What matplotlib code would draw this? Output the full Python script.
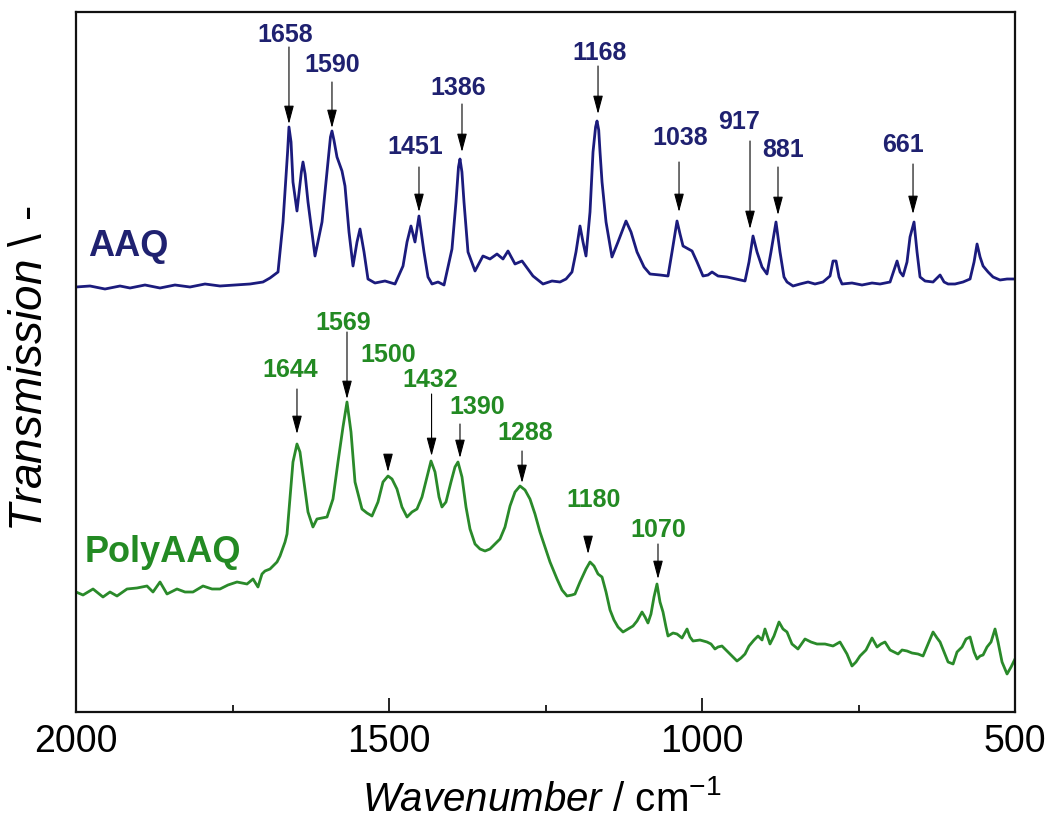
import numpy as np
import matplotlib
matplotlib.use("Agg")
import matplotlib.pyplot as plt
from matplotlib import font_manager
from matplotlib.ticker import MultipleLocator

# ---------------- data ----------------
aaq_wn = [2000.0, 1977.6, 1953.7, 1929.7, 1913.7, 1889.8, 1865.8, 1841.9, 1817.9, 1793.9,
          1770.0, 1746.0, 1722.0, 1701.3, 1690.1, 1677.3, 1669.3, 1662.0, 1659.8, 1656.5, 1653.4, 1647.0,
          1640.0, 1637.4, 1634.0, 1629.4, 1618.2, 1607.0, 1597.5, 1593.5, 1591.1, 1588.0, 1583.1, 1575.1, 1570.3, 1563.9,
          1557.5, 1551.1, 1546.3, 1539.9, 1533.6, 1522.4, 1506.4, 1490.4, 1477.6, 1471.2,
          1464.9, 1458.5, 1452.1, 1444.1, 1437.7, 1431.3, 1421.7, 1412.1, 1399.4, 1393.0,
          1389.0, 1386.6, 1383.5, 1380.2, 1373.8, 1362.6, 1349.9, 1338.7, 1327.5, 1317.9, 1309.9, 1298.7,
          1287.5, 1270.0, 1254.0, 1239.6, 1226.8, 1217.2, 1207.7, 1201.3, 1194.9, 1190.1,
          1185.3, 1178.9, 1174.1, 1170.0, 1167.7, 1165.0, 1162.9, 1159.7, 1153.3, 1143.8, 1134.2, 1121.4,
          1113.4, 1103.8, 1092.6, 1083.1, 1067.1, 1054.3, 1047.9, 1039.9, 1035.1, 1030.3,
          1015.9, 1007.9, 998.4, 990.4, 984.0, 974.4, 960.0, 945.7, 931.3, 924.9,
          918.5, 912.1, 904.1, 896.2, 889.8, 881.8, 875.4, 869.0, 864.2, 854.6,
          843.4, 830.6, 819.5, 806.7, 795.5, 790.7, 785.9, 781.1, 776.3, 760.4,
          744.4, 728.4, 715.6, 699.6, 693.2, 688.4, 683.6, 678.8, 672.5, 667.7,
          661.3, 656.5, 651.7, 643.7, 630.9, 624.5, 619.7, 613.3, 606.9, 595.8,
          583.0, 571.8, 565.4, 560.6, 555.8, 551.0, 543.0, 535.1, 523.9, 512.7, 500.0]
aaq_t = [4.25, 4.26, 4.23, 4.26, 4.24, 4.27, 4.24, 4.27, 4.25, 4.28,
         4.26, 4.27, 4.28, 4.30, 4.34, 4.40, 4.90, 5.60, 5.85, 5.70, 5.30, 5.01,
         5.40, 5.50, 5.38, 5.10, 4.56, 4.90, 5.50, 5.75, 5.81, 5.72, 5.55, 5.41, 5.26, 4.80,
         4.46, 4.70, 4.83, 4.60, 4.33, 4.29, 4.31, 4.28, 4.46, 4.70,
         4.86, 4.70, 4.96, 4.60, 4.35, 4.28, 4.30, 4.27, 4.63, 5.10,
         5.45, 5.53, 5.40, 5.10, 4.60, 4.41, 4.56, 4.53, 4.58, 4.53, 4.61, 4.48,
         4.51, 4.36, 4.28, 4.31, 4.30, 4.33, 4.40, 4.60, 4.86, 4.70,
         4.56, 5.00, 5.60, 5.85, 5.91, 5.82, 5.60, 5.30, 4.90, 4.55, 4.70, 4.91,
         4.80, 4.60, 4.45, 4.38, 4.37, 4.36, 4.60, 4.91, 4.78, 4.66,
         4.61, 4.50, 4.36, 4.37, 4.40, 4.36, 4.35, 4.33, 4.31, 4.50,
         4.76, 4.60, 4.45, 4.38, 4.60, 4.90, 4.60, 4.35, 4.30, 4.26,
         4.28, 4.30, 4.28, 4.30, 4.36, 4.51, 4.51, 4.35, 4.28, 4.29,
         4.27, 4.29, 4.28, 4.30, 4.42, 4.51, 4.40, 4.36, 4.50, 4.75,
         4.90, 4.60, 4.35, 4.31, 4.30, 4.34, 4.37, 4.30, 4.28, 4.28,
         4.30, 4.33, 4.50, 4.68, 4.55, 4.46, 4.40, 4.35, 4.32, 4.33, 4.33]

poly_wn = [2000.0, 1988.8, 1972.8, 1956.9, 1945.7, 1934.5, 1918.5, 1902.6, 1886.6, 1877.0,
           1865.8, 1854.6, 1838.7, 1825.9, 1813.1, 1797.1, 1782.7, 1770.0, 1757.2, 1742.8,
           1726.8, 1717.2, 1709.3, 1702.9, 1698.1, 1690.1, 1685.3, 1678.9, 1674.1, 1666.1,
           1662.9, 1658.2, 1653.4, 1647.0, 1642.2, 1635.8, 1629.4, 1621.5, 1615.1, 1607.0,
           1599.0, 1589.5, 1581.5, 1573.5, 1567.1, 1560.7, 1554.3, 1543.2, 1535.2, 1527.2,
           1517.6, 1509.6, 1501.6, 1495.2, 1487.3, 1479.3, 1471.2, 1463.3, 1455.3, 1447.3,
           1439.3, 1432.9, 1426.5, 1420.1, 1415.4, 1409.0, 1401.0, 1394.6, 1389.8, 1383.4,
           1377.0, 1370.6, 1362.6, 1354.6, 1346.6, 1338.7, 1330.7, 1322.7, 1314.7, 1306.7,
           1298.7, 1290.7, 1282.7, 1274.8, 1266.8, 1258.8, 1250.8, 1242.8, 1231.6, 1223.6,
           1215.6, 1207.7, 1202.9, 1194.9, 1185.3, 1178.9, 1172.5, 1166.1, 1159.7, 1153.3,
           1146.9, 1140.6, 1134.2, 1126.2, 1118.2, 1110.2, 1103.8, 1095.8, 1091.0, 1086.3,
           1081.5, 1076.7, 1071.9, 1067.1, 1062.3, 1057.5, 1054.3, 1046.3, 1039.9, 1031.9,
           1023.9, 1019.2, 1014.4, 1003.2, 992.0, 985.6, 979.3, 974.4, 968.1, 958.5,
           950.5, 944.1, 937.7, 931.3, 924.9, 916.9, 910.5, 904.1, 899.4, 891.4,
           885.0, 877.0, 870.6, 864.2, 856.3, 846.7, 835.5, 825.9, 816.3, 803.5,
           790.7, 779.6, 768.4, 760.4, 754.0, 747.6, 738.0, 728.4, 720.4, 714.1,
           707.7, 699.6, 693.2, 686.8, 680.4, 672.5, 664.5, 654.9, 646.9, 638.9,
           630.9, 624.5, 619.7, 613.3, 606.9, 598.9, 592.6, 584.6, 578.2, 571.8,
           565.4, 560.6, 555.8, 551.0, 544.7, 538.3, 531.9, 527.1, 520.7, 512.7,
           506.3, 500.0]
poly_t = [1.20, 1.17, 1.23, 1.15, 1.20, 1.16, 1.23, 1.24, 1.26, 1.20,
          1.30, 1.18, 1.23, 1.20, 1.20, 1.26, 1.23, 1.23, 1.27, 1.30,
          1.28, 1.33, 1.25, 1.38, 1.41, 1.43, 1.46, 1.50, 1.56, 1.70,
          1.78, 2.13, 2.50, 2.68, 2.60, 2.30, 2.00, 1.85, 1.93, 1.94,
          1.95, 2.13, 2.50, 2.85, 3.10, 2.80, 2.30, 2.03, 1.99, 1.96,
          2.10, 2.30, 2.36, 2.33, 2.23, 2.05, 1.95, 2.00, 2.03, 2.15,
          2.35, 2.51, 2.40, 2.15, 2.05, 2.10, 2.30, 2.45, 2.50, 2.35,
          2.05, 1.83, 1.68, 1.63, 1.61, 1.63, 1.68, 1.73, 1.85, 2.06,
          2.20, 2.26, 2.22, 2.13, 1.98, 1.80, 1.65, 1.50, 1.33, 1.22,
          1.16, 1.17, 1.18, 1.30, 1.43, 1.50, 1.46, 1.38, 1.35, 1.20,
          1.02, 0.92, 0.85, 0.80, 0.83, 0.86, 0.91, 1.00, 0.95, 0.89,
          0.98, 1.15, 1.28, 1.10, 1.00, 0.85, 0.76, 0.79, 0.78, 0.74,
          0.83, 0.75, 0.71, 0.72, 0.70, 0.68, 0.63, 0.65, 0.66, 0.60,
          0.55, 0.51, 0.54, 0.58, 0.66, 0.72, 0.76, 0.72, 0.83, 0.68,
          0.76, 0.90, 0.83, 0.80, 0.68, 0.63, 0.73, 0.70, 0.68, 0.68,
          0.66, 0.70, 0.58, 0.46, 0.50, 0.56, 0.62, 0.74, 0.65, 0.68,
          0.70, 0.62, 0.60, 0.58, 0.62, 0.61, 0.59, 0.58, 0.56, 0.68,
          0.80, 0.74, 0.70, 0.60, 0.50, 0.48, 0.60, 0.65, 0.73, 0.75,
          0.60, 0.53, 0.56, 0.57, 0.65, 0.70, 0.83, 0.70, 0.50, 0.38,
          0.45, 0.53]

aaq_labels = ["1658", "1590", "1451", "1386", "1168", "1038", "917", "881", "661"]
poly_labels = ["1644", "1569", "1500", "1432", "1390", "1288", "1180", "1070"]
series_names = ["AAQ", "PolyAAQ"]
x_ticks = [2000, 1500, 1000, 500]

# ---------------- layout (text x, text y, arrow x, arrow start y, arrow tip y) ----------------
aaq_layout = [(1666, 6.78, 1659.8, 6.65, 5.88),
              (1591, 6.48, 1591.1, 6.30, 5.84),
              (1458, 5.66, 1452.1, 5.45, 5.00),
              (1390, 6.25, 1383.4, 6.08, 5.60),
              (1163, 6.60, 1166.1, 6.46, 5.98),
              (1035, 5.75, 1036.7, 5.50, 5.00),
              (941, 5.91, 923.3, 5.71, 4.83),
              (871, 5.63, 878.6, 5.45, 4.97),
              (679, 5.68, 662.9, 5.48, 4.98)]
poly_layout = [(1658, 3.43, 1647.0, 3.23, 2.78),
               (1573, 3.90, 1567.1, 3.80, 3.13),
               (1502, 3.58, 1501.6, 2.57, 2.40),
               (1434, 3.33, 1432.0, 3.18, 2.56),
               (1359, 3.06, 1386.6, 2.88, 2.54),
               (1283, 2.80, 1287.5, 2.61, 2.29),
               (1174, 2.13, 1182.0, 1.75, 1.58),
               (1070, 1.83, 1070.3, 1.68, 1.33)]

# ---------------- fonts ----------------
plt.rcParams["font.family"] = ["Liberation Sans", "DejaVu Sans"]
plt.rcParams["mathtext.fontset"] = "custom"
plt.rcParams["mathtext.rm"] = "Liberation Sans"
plt.rcParams["mathtext.it"] = "Liberation Sans:italic"
bold_family = ["Liberation Sans", "DejaVu Sans"]

blue_line = "#1b1b7d"
blue_text = "#1f2170"
green_line = "#2a8a2a"
green_text = "#238a23"

fig = plt.figure(figsize=(10.47, 8.28), dpi=100)
ax = fig.add_axes([76 / 1047, 1 - 713 / 828, (1015 - 76) / 1047, 700 / 828])

ax.plot(aaq_wn, aaq_t, color=blue_line, lw=2.0, solid_joinstyle="round")
ax.plot(poly_wn, poly_t, color=green_line, lw=2.0, solid_joinstyle="round")

ax.set_xlim(2000, 500)
ax.set_ylim(0, 7.0)
ax.set_xticks(x_ticks)
ax.xaxis.set_minor_locator(MultipleLocator(250))
ax.set_yticks([])
ax.tick_params(axis="x", which="major", direction="in", length=10, width=1.2,
               labelsize=27, pad=8)
ax.tick_params(axis="x", which="minor", direction="in", length=5, width=1.2)
for sp in ax.spines.values():
    sp.set_linewidth(1.6)
    sp.set_color("#111111")

def annotate(labels, layout, color):
    for lab, (tx, ty, axx, ys, yt) in zip(labels, layout):
        ax.text(tx, ty, lab, color=color, fontsize=18, fontweight="bold",
                family=bold_family, ha="center", va="center")
        ax.annotate("", xy=(axx, yt), xytext=(axx, ys),
                    arrowprops=dict(arrowstyle="-|>,head_length=0.75,head_width=0.2",
                                    color="black", lw=0.8,
                                    mutation_scale=15, shrinkA=0, shrinkB=0))

annotate(aaq_labels, aaq_layout, blue_text)
annotate(poly_labels, poly_layout, green_text)

ax.text(1981, 4.66, series_names[0], color=blue_text, fontsize=26, fontweight="bold",
        family=bold_family, ha="left", va="center")
ax.text(1986, 1.60, series_names[1], color=green_text, fontsize=26, fontweight="bold",
        family=bold_family, ha="left", va="center")

fig.text(30 / 1047, 1 - 369 / 828, r"$\mathit{Transmission}$ \ -", rotation=90,
         ha="center", va="center", fontsize=33)
fig.text(542 / 1047, 1 - 800 / 828, r"$\mathit{Wavenumber}$ / cm$^{\mathregular{-1}}$",
         ha="center", va="center", fontsize=29)

fig.savefig("out.png", dpi=100, facecolor="white")
